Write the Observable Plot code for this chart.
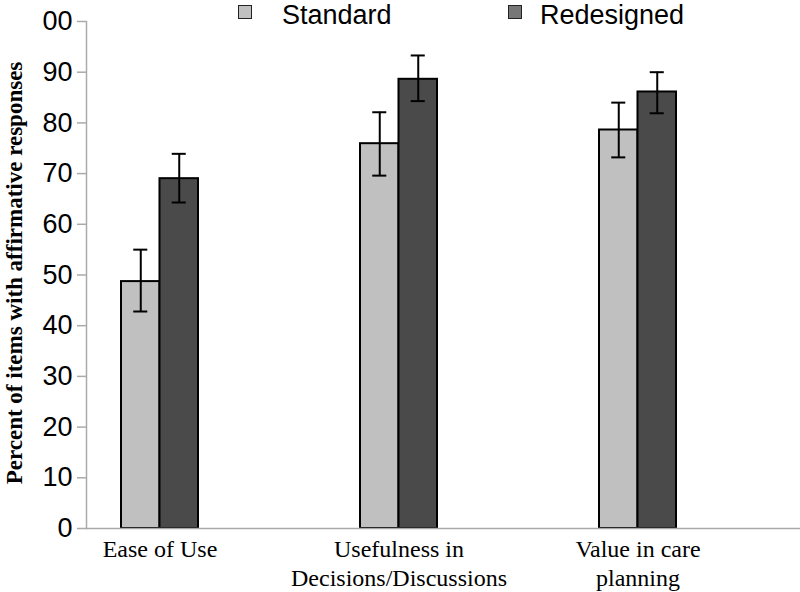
<!DOCTYPE html>
<html>
<head>
<meta charset="utf-8">
<script src="https://cdn.jsdelivr.net/npm/d3@7"></script>
<script src="https://cdn.jsdelivr.net/npm/@observablehq/plot@0.6"></script>
<style>
  body { margin: 0; background: #fff; }
  #wrap { position: relative; width: 800px; height: 592px; overflow: hidden; }
  .leg { position: absolute; font-family: "Liberation Sans", Arial, sans-serif; font-size: 27px; color: #000; line-height: 30px; white-space: nowrap; }
  .sw { position: absolute; width: 12px; height: 12px; border: 1px solid #222; box-sizing: content-box; }
</style>
</head>
<body>
<div id="wrap"></div>
<script>
const categories = ["Ease of Use", "Usefulness in\nDecisions/Discussions", "Value in care\nplanning"];
const seriesNames = ["Standard", "Redesigned"];
const standardValues = [48.7, 75.9, 78.6];
const standardLow = [42.8, 69.6, 73.2];
const standardHigh = [55.0, 82.1, 84.0];
const redesignedValues = [69.0, 88.6, 86.1];
const redesignedLow = [64.3, 84.3, 81.9];
const redesignedHigh = [73.9, 93.3, 90.0];
const yTicks = [0, 10, 20, 30, 40, 50, 60, 70, 80, 90, 100];
const yTickLabels = ["0", "10", "20", "30", "40", "50", "60", "70", "80", "90", "00"];
const yTitle = "Percent of items with affirmative responses";

const stdData = categories.map((c, i) => ({category: c, value: standardValues[i], low: standardLow[i], high: standardHigh[i]}));
const redData = categories.map((c, i) => ({category: c, value: redesignedValues[i], low: redesignedLow[i], high: redesignedHigh[i]}));

const W = 800, H = 592, mL = 86, mR = 0, mT = 21, mB = 64;
const pIn = 0.678, pOut = 0.3326, align = 0.223;
const step = (W - mL - mR) / (categories.length - pIn + 2 * pOut);
const bw = step * (1 - pIn);
const cap = 7;

const chart = Plot.plot({
  width: W, height: H,
  marginLeft: mL, marginRight: mR, marginTop: mT, marginBottom: mB,
  x: {domain: categories, paddingInner: pIn, paddingOuter: pOut, align: align},
  y: {domain: [0, 100]},
  style: {background: "#fff", color: "#000", overflow: "visible"},
  marks: [
    Plot.frame({anchor: "left", stroke: "#aaa", strokeWidth: 1.5}),
    Plot.axisY({ticks: yTicks, tickFormat: (d, i) => yTickLabels[i], tickSize: 9, tickPadding: 5, stroke: "#aaa", strokeWidth: 1.5, fontSize: 27, fontFamily: "Liberation Sans, Arial, sans-serif", label: null}),
    Plot.axisX({tickSize: 0, tickPadding: 9, fontSize: 24, fontFamily: "Liberation Serif, Times New Roman, serif", lineHeight: 1.17, label: null}),
    Plot.barY(stdData, {x: "category", y: "value", fill: "#c0c0c0", stroke: "#000", strokeWidth: 2, insetRight: bw / 2}),
    Plot.barY(redData, {x: "category", y: "value", fill: "#4a4a4a", stroke: "#000", strokeWidth: 2, insetLeft: bw / 2}),
    Plot.ruleY([0], {stroke: "#aaa", strokeWidth: 1.5}),
    Plot.ruleX(stdData, {x: "category", y1: "low", y2: "high", dx: -bw / 4, stroke: "#000", strokeWidth: 2}),
    Plot.tickY(stdData, {x: "category", y: "low", insetLeft: bw / 4 - cap, insetRight: 3 * bw / 4 - cap, stroke: "#000", strokeWidth: 2}),
    Plot.tickY(stdData, {x: "category", y: "high", insetLeft: bw / 4 - cap, insetRight: 3 * bw / 4 - cap, stroke: "#000", strokeWidth: 2}),
    Plot.ruleX(redData, {x: "category", y1: "low", y2: "high", dx: bw / 4, stroke: "#000", strokeWidth: 2}),
    Plot.tickY(redData, {x: "category", y: "low", insetLeft: 3 * bw / 4 - cap, insetRight: bw / 4 - cap, stroke: "#000", strokeWidth: 2}),
    Plot.tickY(redData, {x: "category", y: "high", insetLeft: 3 * bw / 4 - cap, insetRight: bw / 4 - cap, stroke: "#000", strokeWidth: 2}),
    Plot.text([yTitle], {frameAnchor: "left", textAnchor: "middle", rotate: -90, dx: -72, dy: -2, fontSize: 23, fontWeight: "bold", fontFamily: "Liberation Serif, Times New Roman, serif", fill: "#000"})
  ]
});

const wrap = document.getElementById("wrap");
wrap.appendChild(chart);

const legendColors = ["#c0c0c0", "#777777"];
const legendSwatchX = [238, 508];
const legendTextX = [282, 540];
seriesNames.forEach((name, i) => {
  const sw = document.createElement("div");
  sw.className = "sw";
  sw.style.left = legendSwatchX[i] + "px";
  sw.style.top = "5px";
  sw.style.background = legendColors[i];
  wrap.appendChild(sw);
  const t = document.createElement("div");
  t.className = "leg";
  t.style.left = legendTextX[i] + "px";
  t.style.top = "0px";
  t.textContent = name;
  wrap.appendChild(t);
});
</script>
</body>
</html>
